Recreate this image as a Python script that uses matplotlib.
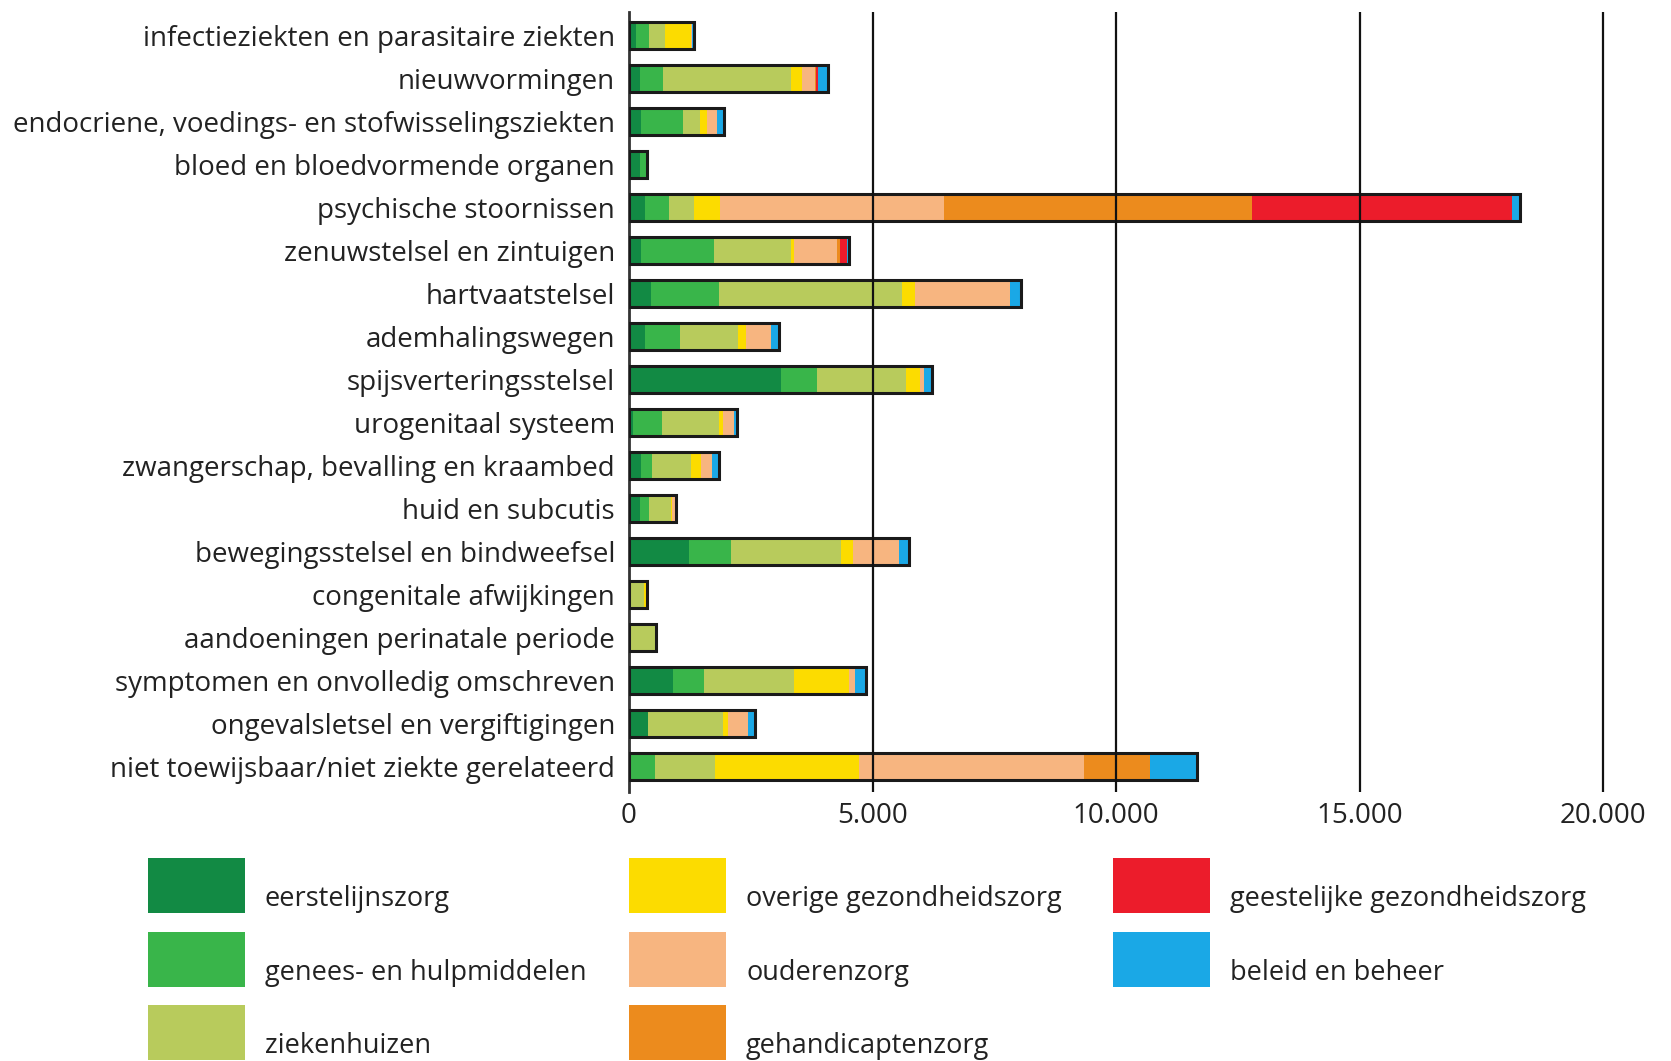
import matplotlib.pyplot as plt
import matplotlib.patches as mpatches
import matplotlib.ticker as mticker
import numpy as np

plt.rcParams['font.family'] = ['Open Sans', 'DejaVu Sans']

categories = ['infectieziekten en parasitaire ziekten', 'nieuwvormingen',
              'endocriene, voedings- en stofwisselingsziekten', 'bloed en bloedvormende organen',
              'psychische stoornissen', 'zenuwstelsel en zintuigen', 'hartvaatstelsel',
              'ademhalingswegen', 'spijsverteringsstelsel', 'urogenitaal systeem',
              'zwangerschap, bevalling en kraambed', 'huid en subcutis',
              'bewegingsstelsel en bindweefsel', 'congenitale afwijkingen',
              'aandoeningen perinatale periode', 'symptomen en onvolledig omschreven',
              'ongevalsletsel en vergiftigingen', 'niet toewijsbaar/niet ziekte gerelateerd']

# kosten in miljoen euro per sector
eerstelijnszorg = [150, 220, 250, 220, 320, 250, 450, 320, 3120, 80, 240, 220, 1240, 30, 20, 910, 380, 30]
genees_hulpmiddelen = [260, 470, 850, 130, 510, 1500, 1390, 720, 750, 600, 240, 200, 850, 20, 20, 620, 20, 500]
ziekenhuizen = [320, 2630, 350, 0, 510, 1570, 3760, 1190, 1810, 1160, 790, 440, 2260, 250, 500, 1850, 1540, 1240]
overige = [540, 240, 150, 0, 520, 70, 270, 170, 300, 100, 200, 20, 240, 50, 0, 1130, 100, 2950]
ouderenzorg = [30, 250, 200, 0, 4610, 890, 1950, 510, 70, 220, 240, 70, 950, 0, 0, 140, 410, 4630]
gehandicaptenzorg = [0, 20, 0, 0, 6320, 50, 0, 0, 0, 0, 0, 0, 0, 0, 0, 0, 0, 1340]
geestelijke = [0, 50, 0, 0, 5340, 150, 0, 0, 0, 0, 0, 0, 0, 0, 0, 0, 0, 0]
beleid_beheer = [30, 200, 150, 20, 170, 40, 220, 170, 180, 50, 140, 20, 200, 20, 20, 210, 140, 980]

series = [eerstelijnszorg, genees_hulpmiddelen, ziekenhuizen, overige,
          ouderenzorg, gehandicaptenzorg, geestelijke, beleid_beheer]
labels = ['eerstelijnszorg', 'genees- en hulpmiddelen', 'ziekenhuizen',
          'overige gezondheidszorg', 'ouderenzorg', 'gehandicaptenzorg',
          'geestelijke gezondheidszorg', 'beleid en beheer']
colors = ['#128a44', '#39b54a', '#b8cb5c', '#fcdc00', '#f7b580', '#ec8b1d', '#ec1c2b', '#1aa8e6']

fig = plt.figure(figsize=(16.71, 10.61), dpi=100)
ax = fig.add_axes([629 / 1671, 1 - 792 / 1061, (20.5 * 48.7) / 1671, 780 / 1061])

y = np.arange(len(categories))
left = np.zeros(len(categories))
h = 0.62
for vals, col, lab in zip(series, colors, labels):
    ax.barh(y, vals, left=left, height=h, color=col, label=lab, zorder=2)
    left += np.array(vals)
# zwarte rand om de hele balk
ax.barh(y, left, height=h, facecolor='none', edgecolor='#1a1a1a', linewidth=2.2, zorder=3)

for xv in [5000, 10000, 15000, 20000]:
    ax.axvline(xv, color='#111111', linewidth=1.6, zorder=4)

ax.set_xlim(0, 20500)
ax.set_ylim(17.6, -0.54)
ax.set_yticks(y)
ax.set_yticklabels(categories, fontsize=20, color='#222222')
ax.set_xticks([0, 5000, 10000, 15000, 20000])
ax.xaxis.set_major_formatter(mticker.FuncFormatter(lambda v, p: f'{int(v):,}'.replace(',', '.')))
ax.tick_params(axis='x', length=0, pad=7, labelsize=20, labelcolor='#222222')
ax.tick_params(axis='y', length=0, pad=10)
for s in ['top', 'right', 'bottom']:
    ax.spines[s].set_visible(False)
ax.spines['left'].set_linewidth(2)
ax.spines['left'].set_color('#333333')

# legenda
col_x = [148, 629, 1113]
row_y = [858, 932, 1005]
for i, (lab, col) in enumerate(zip(labels, colors)):
    cx = col_x[i // 3]
    ry = row_y[i % 3]
    fig.add_artist(mpatches.Rectangle((cx / 1671, 1 - (ry + 55) / 1061), 97 / 1671, 55 / 1061,
                                      transform=fig.transFigure, facecolor=col, edgecolor='none'))
    fig.text((cx + 117) / 1671, 1 - (ry + 48) / 1061, lab, fontsize=19.5, color='#222222', va='baseline')

fig.savefig('out.png', dpi=100)
